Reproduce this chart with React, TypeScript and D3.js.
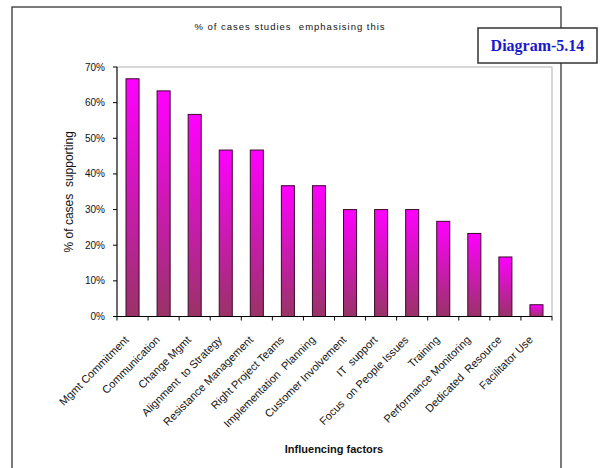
import React from "react";
import * as d3 from "d3";

const categories = [
  "Mgmt Commitment",
  "Communication",
  "Change Mgmt",
  "Alignment  to Strategy",
  "Resistance Management",
  "Right Project Teams",
  "Implementation  Planning",
  "Customer Involvement",
  "IT  support",
  "Focus  on People Issues",
  "Training",
  "Performance Monitoring",
  "Dedicated  Resource",
  "Facilitator Use",
];
const values = [66.7, 63.3, 56.7, 46.7, 46.7, 36.7, 36.7, 30, 30, 30, 26.7, 23.3, 16.7, 3.3];
const yTicks = [0, 10, 20, 30, 40, 50, 60, 70];
const chartTitle = "% of cases studies  emphasising this";
const yTitle = "% of cases  supporting";
const xTitle = "Influencing factors";
const badge = "Diagram-5.14";

const W = 609;
const H = 468;
const plot = { left: 117, right: 552, top: 67, bottom: 316.5 };
const FONT = "'Liberation Sans', Arial, sans-serif";

export default function App() {
  const x = d3
    .scaleBand<string>()
    .domain(categories)
    .range([plot.left, plot.right])
    .paddingInner(0.58)
    .paddingOuter(0.29);
  const y = d3.scaleLinear().domain([0, 70]).range([plot.bottom, plot.top]);
  const step = (plot.right - plot.left) / categories.length;

  return (
    <svg
      width={W}
      height={H}
      style={{ position: "absolute", left: 0, top: 0, background: "#fff" }}
    >
      <defs>
        <linearGradient id="barGrad" x1="0" y1="0" x2="0" y2="1">
          <stop offset="0%" stopColor="#ff00ff" />
          <stop offset="100%" stopColor="#993366" />
        </linearGradient>
      </defs>
      {/* outer frame */}
      <rect x={12} y={7} width={549} height={470} fill="#fff" stroke="#222" strokeWidth={1.2} />
      {/* plot area border */}
      <rect
        x={plot.left}
        y={plot.top}
        width={plot.right - plot.left}
        height={plot.bottom - plot.top}
        fill="#fff"
        stroke="#b0b0b0"
        strokeWidth={1}
      />
      {/* title */}
      <text
        x={290}
        y={30}
        textAnchor="middle"
        fontFamily={FONT}
        fontSize={9.5}
        letterSpacing={1}
        fill="#111"
        style={{ whiteSpace: "pre" }}
      >
        {chartTitle}
      </text>
      {/* bars */}
      {categories.map((c, i) => (
        <rect
          key={c}
          x={x(c)}
          y={y(values[i])}
          width={x.bandwidth()}
          height={plot.bottom - y(values[i])}
          fill="url(#barGrad)"
          stroke="#3a0a2a"
          strokeWidth={1}
        />
      ))}
      {/* y axis */}
      <line x1={plot.left} x2={plot.left} y1={plot.top} y2={plot.bottom} stroke="#000" />
      {yTicks.map((t) => (
        <g key={t}>
          <line x1={plot.left - 4} x2={plot.left} y1={y(t)} y2={y(t)} stroke="#000" />
          <text
            x={plot.left - 12}
            y={y(t)}
            dy="0.35em"
            textAnchor="end"
            fontFamily={FONT}
            fontSize={10}
            fill="#111"
          >
            {t}%
          </text>
        </g>
      ))}
      {/* x axis */}
      <line x1={plot.left} x2={plot.right} y1={plot.bottom} y2={plot.bottom} stroke="#000" />
      {d3.range(categories.length + 1).map((i) => (
        <line
          key={i}
          x1={plot.left + i * step}
          x2={plot.left + i * step}
          y1={plot.bottom}
          y2={plot.bottom + 4}
          stroke="#000"
        />
      ))}
      {categories.map((c) => {
        const cx = (x(c) as number) + x.bandwidth() / 2 - 3;
        const cy = plot.bottom + 24;
        return (
          <text
            key={c}
            transform={`translate(${cx},${cy}) rotate(-45)`}
            textAnchor="end"
            fontFamily={FONT}
            fontSize={11}
            fill="#111"
            style={{ whiteSpace: "pre" }}
          >
            {c}
          </text>
        );
      })}
      {/* axis titles */}
      <text
        transform={`translate(73,${(plot.top + plot.bottom) / 2}) rotate(-90)`}
        textAnchor="middle"
        fontFamily={FONT}
        fontSize={12}
        fill="#111"
        style={{ whiteSpace: "pre" }}
      >
        {yTitle}
      </text>
      <text x={334} y={453} textAnchor="middle" fontFamily={FONT} fontSize={11} fontWeight="bold" fill="#111">
        {xTitle}
      </text>
      {/* badge */}
      <rect x={478} y={28} width={119} height={35} fill="#fff" stroke="#333" strokeWidth={1.5} />
      <text
        x={537.5}
        y={51}
        textAnchor="middle"
        fontFamily="'Liberation Serif', 'Times New Roman', serif"
        fontWeight="bold"
        fontSize={16}
        fill="#1a1acc"
      >
        {badge}
      </text>
    </svg>
  );
}
